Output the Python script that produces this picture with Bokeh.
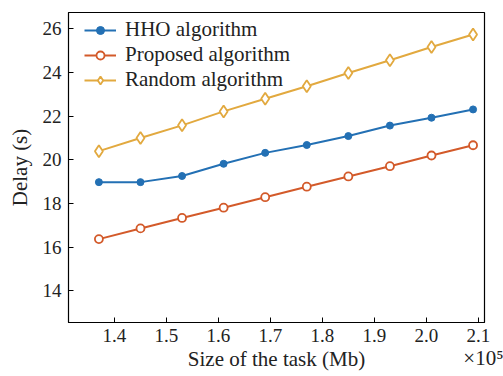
from bokeh.plotting import figure
from bokeh.models import Range1d, Legend, LegendItem, Title, FixedTicker
from bokeh.embed import file_html
from bokeh.resources import INLINE

task_size = [1.37, 1.45, 1.53, 1.61, 1.69, 1.77, 1.85, 1.93, 2.01, 2.09]
hho = [18.98, 18.98, 19.26, 19.82, 20.32, 20.68, 21.09, 21.57, 21.93, 22.31]
proposed = [16.37, 16.86, 17.34, 17.81, 18.29, 18.77, 19.24, 19.71, 20.20, 20.67]
random_alg = [20.40, 21.00, 21.58, 22.22, 22.80, 23.37, 23.98, 24.56, 25.17, 25.74]

x_ticks = [1.4, 1.5, 1.6, 1.7, 1.8, 1.9, 2.0, 2.1]
y_ticks = [14, 16, 18, 20, 22, 24, 26]

FONT = "Liberation Serif"
BLUE = "#2370B4"
ORANGE = "#D35A2A"
YELLOW = "#E2A93F"

p = figure(width=503, height=376, output_backend="svg", toolbar_location=None,
           x_range=Range1d(1.3115, 2.112), y_range=Range1d(12.55, 26.75),
           min_border_left=68, min_border_right=19, min_border_top=12, min_border_bottom=54)
p.grid.visible = False
p.outline_line_color = "black"
p.outline_line_width = 1.2
p.background_fill_color = "white"
p.border_fill_color = "white"

p.axis.major_tick_in = 5
p.axis.major_tick_out = 0
p.axis.minor_tick_line_color = None
p.axis.axis_line_color = "black"
p.axis.major_tick_line_color = "black"
p.axis.major_label_text_font = FONT
p.axis.major_label_text_font_size = "19px"
p.axis.major_label_text_color = "#222222"
p.axis.axis_label_text_font = FONT
p.axis.axis_label_text_font_size = "21px"
p.axis.axis_label_text_font_style = "normal"
p.axis.axis_label_text_color = "#222222"

p.xaxis.ticker = FixedTicker(ticks=x_ticks)
p.yaxis.ticker = FixedTicker(ticks=y_ticks)
p.xaxis.major_label_overrides = {t: f"{t:.1f}" for t in x_ticks}
p.xaxis.axis_label = "Size of the task (Mb)"
p.yaxis.axis_label = "Delay (s)"
p.xaxis.major_label_standoff = 6
p.yaxis.major_label_standoff = 7
p.xaxis.axis_label_standoff = 2
p.yaxis.axis_label_standoff = 8

l1 = p.line(task_size, hho, line_color=BLUE, line_width=2)
m1 = p.scatter(task_size, hho, marker="circle", size=7, fill_color=BLUE, line_color=BLUE)
l2 = p.line(task_size, proposed, line_color=ORANGE, line_width=2)
m2 = p.scatter(task_size, proposed, marker="circle", size=8, fill_color="white", line_color=ORANGE, line_width=1.8)
l3 = p.line(task_size, random_alg, line_color=YELLOW, line_width=2)
m3 = p.scatter(task_size, random_alg, marker="diamond", size=12, fill_color="white", line_color=YELLOW, line_width=1.8)

legend = Legend(items=[
    LegendItem(label="HHO algorithm", renderers=[l1, m1]),
    LegendItem(label="Proposed algorithm", renderers=[l2, m2]),
    LegendItem(label="Random algorithm", renderers=[l3, m3]),
], location=(10, 224))
legend.label_text_font = FONT
legend.label_text_font_size = "21px"
legend.label_text_color = "#222222"
legend.border_line_alpha = 0
legend.background_fill_alpha = 0
legend.glyph_width = 32
legend.glyph_height = 20
legend.label_height = 20
legend.spacing = 0
legend.padding = 6
legend.margin = 0
legend.label_standoff = 9
p.add_layout(legend)

exp_title = Title(text="×10⁵", align="right", vertical_align="top", text_font=FONT,
                  text_font_size="21px", text_color="#222222", text_font_style="normal",
                  standoff=-56, offset=-19)
p.add_layout(exp_title, "below")

open("out.html", "w").write(file_html(p, INLINE))
